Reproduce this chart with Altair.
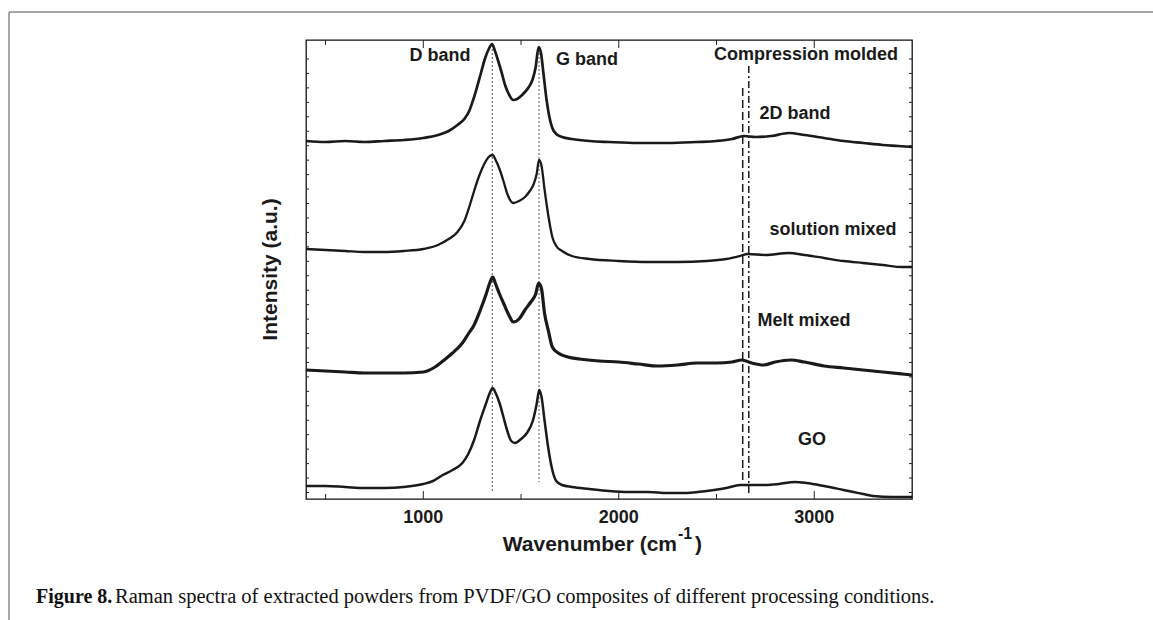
import altair as alt
import pandas as pd

# ---------------- data ----------------
cm_x = [400, 500, 600, 700, 800, 900, 1000, 1075, 1130, 1175, 1210, 1235, 1255, 1275, 1295, 1315, 1335, 1352, 1365,
        1380, 1400, 1420, 1440, 1460, 1480, 1500, 1520, 1540, 1560, 1575, 1590, 1602, 1615, 1630, 1645, 1660, 1680,
        1710, 1760, 1850, 1950, 2100, 2250, 2400, 2500, 2580, 2640, 2700, 2780, 2870, 2950, 3050, 3150, 3250, 3350,
        3430, 3500]
cm_y = [358, 357, 358, 357, 358, 359, 361, 364, 368, 374, 380, 388, 399, 412, 426, 440, 450, 455, 449,
        440, 427, 413, 404, 399, 400, 403, 407, 412, 420, 432, 452, 446, 425, 400, 382, 371, 365,
        362, 360, 358, 357, 356, 356, 357, 358, 360, 363, 362, 363, 366, 364, 361, 358, 356, 354,
        353, 352]

sm_x = [400, 500, 600, 700, 800, 900, 1000, 1075, 1130, 1175, 1210, 1235, 1260, 1280, 1300, 1320, 1340, 1355, 1370,
        1390, 1410, 1430, 1460, 1490, 1520, 1545, 1565, 1580, 1592, 1605, 1620, 1640, 1660, 1680, 1710, 1760, 1850,
        2000, 2150, 2300, 2450, 2550, 2620, 2660, 2750, 2870, 2950, 3050, 3150, 3250, 3350, 3450, 3500]
sm_y = [250, 249, 248, 247, 247, 248, 250, 254, 260, 267, 278, 292, 308, 320, 330, 338, 343, 344, 339,
        330, 318, 305, 296, 298, 302, 308, 315, 325, 339, 333, 310, 283, 262, 253, 248, 243, 240,
        238, 237, 237, 238, 240, 243, 245, 244, 246, 244, 241, 238, 236, 234, 232, 232]

mm_x = [400, 500, 600, 700, 800, 900, 1000, 1060, 1100, 1150, 1200, 1230, 1260, 1290, 1320, 1340, 1355, 1370, 1390,
        1410, 1440, 1460, 1490, 1520, 1550, 1575, 1590, 1605, 1620, 1640, 1660, 1690, 1740, 1800, 1900, 2000, 2100,
        2200, 2300, 2400, 2500, 2580, 2630, 2680, 2740, 2800, 2880, 2950, 3050, 3150, 3250, 3350, 3450, 3500]
mm_y = [129, 128, 127, 126, 126, 126, 127, 132, 138, 146, 156, 165, 174, 188, 204, 216, 222, 215, 205,
        196, 183, 177, 180, 189, 197, 205, 216, 210, 186, 168, 152, 146, 142, 140, 138, 137, 135,
        133, 134, 136, 136, 137, 139, 136, 134, 137, 139, 137, 133, 131, 129, 127, 125, 124]

go_x = [400, 500, 600, 700, 800, 900, 1000, 1050, 1100, 1150, 1200, 1230, 1260, 1290, 1320, 1340, 1355, 1370, 1390,
        1410, 1430, 1450, 1470, 1500, 1530, 1560, 1580, 1593, 1605, 1620, 1640, 1660, 1680, 1710, 1760, 1850, 1950,
        2050, 2150, 2250, 2350, 2450, 2550, 2620, 2680, 2750, 2820, 2900, 2960, 3050, 3150, 3200, 3250, 3300, 3400,
        3500]
go_y = [13, 13, 12, 11, 11, 12, 15, 18, 24, 29, 36, 45, 59, 78, 95, 106, 111, 106, 96,
        82, 68, 58, 56, 60, 66, 78, 95, 109, 102, 79, 50, 29, 18, 14, 12, 10, 8,
        7, 7, 6, 6, 8, 11, 14, 14, 14, 15, 17, 16, 13, 9, 7, 5, 3, 2,
        2]

# marker lines: D band, G band (dotted), 2D band markers (dashed, dash-dot)
band_pos = [1353, 1592]
band_top = [450, 450]
band_bottom = [6, 17]
dash_pos = [2634]
dash_top = [411]
dash_bottom = [14]
dashdot_pos = [2665]
dashdot_top = [433]
dashdot_bottom = [3]

# annotations (x in cm-1, y in intensity units)
ann_text = ["D band", "G band", "Compression molded", "2D band", "solution mixed", "Melt mixed", "GO"]
ann_x = [1085, 1837, 2958, 2901, 3096, 2948, 2988]
ann_y = [443, 439, 444, 385, 269, 178, 59]

major_ticks = [1000, 2000, 3000]
major_labels = ["1000", "2000", "3000"]
minor_ticks = [500, 1500, 2500]
y_ticks = [round(440 - 14.45 * k, 2) for k in range(31)]

x_domain = [400, 3500]
y_domain = [0, 459]

# ---------------- tables ----------------
def spectrum(xs_, ys_):
    return pd.DataFrame({"wavenumber": xs_, "intensity": ys_})

bands = pd.DataFrame({"wavenumber": band_pos, "top": band_top, "bottom": band_bottom})
dashes = pd.DataFrame({"wavenumber": dash_pos, "top": dash_top, "bottom": dash_bottom})
dashdots = pd.DataFrame({"wavenumber": dashdot_pos, "top": dashdot_top, "bottom": dashdot_bottom})
ann = pd.DataFrame({"text": ann_text, "wavenumber": ann_x, "intensity": ann_y})
majors = pd.DataFrame({"wavenumber": major_ticks, "label": major_labels})
minors = pd.DataFrame({"wavenumber": minor_ticks})
yt = pd.DataFrame({"intensity": y_ticks})

W, H = 606, 459
SANS = "Liberation Sans"
SERIF = "Liberation Serif"
INK = "#1a1a1a"

xs = alt.Scale(domain=x_domain, nice=False, zero=False)
ys = alt.Scale(domain=y_domain, nice=False, zero=False)


def xq(field="wavenumber"):
    return alt.X(f"{field}:Q", scale=xs, axis=None)


def yq(field="intensity"):
    return alt.Y(f"{field}:Q", scale=ys, axis=None)


def line_layer(df, width):
    return alt.Chart(df).mark_line(color=INK, strokeWidth=width, interpolate="monotone",
                                   strokeJoin="round").encode(x=xq(), y=yq())


l_cm = line_layer(spectrum(cm_x, cm_y), 2.7)
l_sm = line_layer(spectrum(sm_x, sm_y), 2.3)
l_mm = line_layer(spectrum(mm_x, mm_y), 3.2)
l_go = line_layer(spectrum(go_x, go_y), 2.5)

dotted = alt.Chart(bands).mark_rule(color="#555555", strokeWidth=1, strokeDash=[2, 2]).encode(
    x=xq(), y=yq("top"), y2="bottom:Q")
dashed = alt.Chart(dashes).mark_rule(color=INK, strokeWidth=1.5, strokeDash=[8, 4]).encode(
    x=xq(), y=yq("top"), y2="bottom:Q")
dashdot = alt.Chart(dashdots).mark_rule(color=INK, strokeWidth=1.5, strokeDash=[7, 3, 2, 3]).encode(
    x=xq(), y=yq("top"), y2="bottom:Q")

labels = alt.Chart(ann).mark_text(font=SANS, fontSize=18, fontWeight="bold", color=INK,
                                  align="center", baseline="middle").encode(
    x=xq(), y=yq(), text="text:N")

# inward ticks and tick labels
tick_color = "#222222"
bot_major = alt.Chart(majors).mark_rule(color=tick_color, strokeWidth=1).encode(
    x=xq(), y=alt.value(H), y2=alt.value(H - 8))
bot_minor = alt.Chart(minors).mark_rule(color=tick_color, strokeWidth=1).encode(
    x=xq(), y=alt.value(H), y2=alt.value(H - 5))
top_major = alt.Chart(majors).mark_rule(color=tick_color, strokeWidth=1).encode(
    x=xq(), y=alt.value(0), y2=alt.value(8))
top_minor = alt.Chart(minors).mark_rule(color=tick_color, strokeWidth=1).encode(
    x=xq(), y=alt.value(0), y2=alt.value(5))
left_ticks = alt.Chart(yt).mark_rule(color=tick_color, strokeWidth=1).encode(
    y=yq(), x=alt.value(0), x2=alt.value(3))
right_ticks = alt.Chart(yt).mark_rule(color=tick_color, strokeWidth=1).encode(
    y=yq(), x=alt.value(W), x2=alt.value(W - 3))
tick_labels = alt.Chart(majors).mark_text(font=SANS, fontSize=18, fontWeight="bold", color=INK,
                                          align="center", baseline="alphabetic").encode(
    x=xq(), y=alt.value(H + 24), text="label:N")

# axis titles (custom, to get the superscript), caption, frame
texts = pd.DataFrame({
    "t": ["Intensity (a.u.)", "Wavenumber (cm", "-1", ")", "Figure 8.",
          "Raman spectra of extracted powders from PVDF/GO composites of different processing conditions."],
    "px": [-29, 371, 372, 389, -270, -191],
    "py": [H / 2, 511, 499, 511, 563, 563],
})


def text_layer(i, **kw):
    return alt.Chart(texts.iloc[[i]]).mark_text(**kw).encode(
        text="t:N", x=alt.X("px:Q", scale=None, axis=None), y=alt.Y("py:Q", scale=None, axis=None))


ytitle = text_layer(0, font=SANS, fontSize=21, fontWeight="bold", color=INK, angle=270,
                    align="center", baseline="alphabetic")
xtitle = text_layer(1, font=SANS, fontSize=21, fontWeight="bold", color=INK, align="right", baseline="alphabetic")
xsup = text_layer(2, font=SANS, fontSize=16, fontWeight="bold", color=INK, align="left", baseline="alphabetic")
xclose = text_layer(3, font=SANS, fontSize=21, fontWeight="bold", color=INK, align="left", baseline="alphabetic")
cap_bold = text_layer(4, font=SERIF, fontSize=20, fontWeight="bold", color="#111111", align="left",
                      baseline="alphabetic")
cap_rest = text_layer(5, font=SERIF, fontSize=20.5, color="#111111", align="left", baseline="alphabetic")

frame = pd.DataFrame({"x1": [-297, -297], "x2": [847, -297], "y1": [-28, -28], "y2": [-28, 580]})
frame_rules = alt.Chart(frame).mark_rule(color="#8a8a8a", strokeWidth=1.5).encode(
    x=alt.X("x1:Q", scale=None, axis=None), x2="x2:Q",
    y=alt.Y("y1:Q", scale=None, axis=None), y2="y2:Q")

chart = alt.layer(
    frame_rules,
    dotted, dashed, dashdot, l_cm, l_sm, l_mm, l_go, labels,
    bot_major, bot_minor, top_major, top_minor, left_ticks, right_ticks, tick_labels,
    ytitle, xtitle, xsup, xclose, cap_bold, cap_rest,
).properties(
    width=W, height=H,
    autosize=alt.AutoSizeParams(type="none"),
    padding={"left": 306, "top": 40, "right": 241, "bottom": 121},
).configure_view(stroke="#111111", strokeWidth=1.3)

chart.save("out.html", embed_options={"renderer": "svg", "actions": False})
